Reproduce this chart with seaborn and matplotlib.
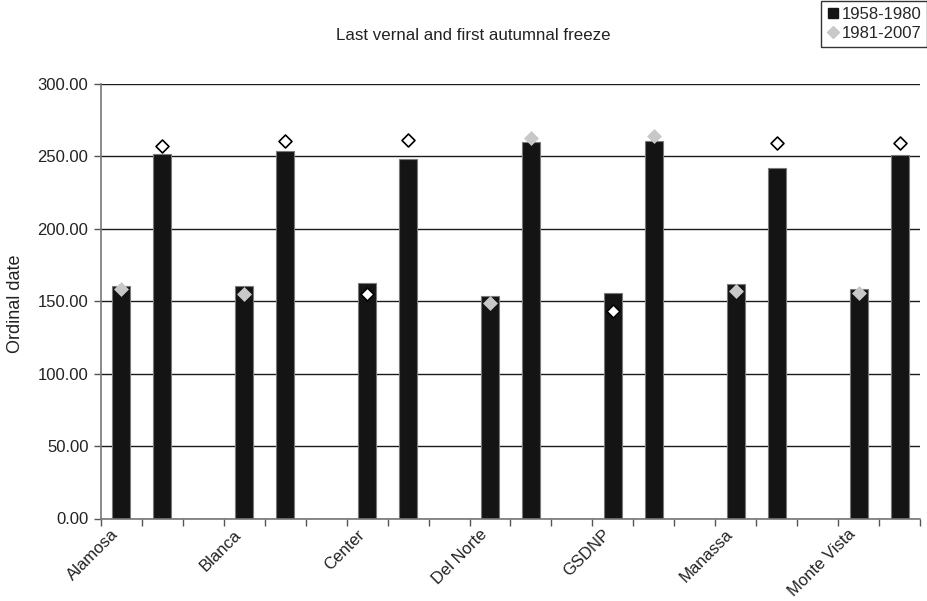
import numpy as np
import pandas as pd
import matplotlib
matplotlib.use("Agg")
import matplotlib.pyplot as plt
import matplotlib.transforms as mtransforms
from matplotlib.lines import Line2D
import seaborn as sns

# Stations and freeze dates (ordinal day of year)
stations = ["Alamosa", "Blanca", "Center", "Del Norte", "GSDNP", "Manassa", "Monte Vista"]
periods = ["1958-1980", "1981-2007"]

# 1958-1980 means (bars)
last_spring_1958 = [160.3, 160.8, 162.9, 153.4, 155.7, 162.2, 158.3]
first_fall_1958 = [251.9, 253.4, 248.2, 259.7, 260.3, 241.9, 250.7]

# 1981-2007 means (diamonds)
last_spring_1981 = [158.8, 154.8, 154.8, 148.8, 143.3, 156.9, 155.7]
first_fall_1981 = [257.4, 260.6, 261.0, 262.9, 264.0, 259.4, 259.4]

y_ticks = [0, 50, 100, 150, 200, 250, 300]

# Diamonds drawn hollow (white with black outline) instead of solid grey
hollow_spring = [False, False, True, False, True, False, False]
hollow_fall = [True, True, True, False, False, True, True]

sns.set_theme(style="white")
plt.rcParams["font.family"] = ["Liberation Sans", "DejaVu Sans"]

# Category slots: spring, fall, empty spacer between stations
order = []
for i, s in enumerate(stations):
    order += [f"{s} spring", f"{s} fall"]
    if i < len(stations) - 1:
        order.append(f"{s} gap")

bars = pd.DataFrame({
    "slot": [f"{s} spring" for s in stations] + [f"{s} fall" for s in stations],
    "day": last_spring_1958 + first_fall_1958,
})
pts = pd.DataFrame({
    "slot": [f"{s} spring" for s in stations] + [f"{s} fall" for s in stations],
    "day": last_spring_1981 + first_fall_1981,
    "hollow": hollow_spring + hollow_fall,
})

fig = plt.figure(figsize=(9.28, 6.01), dpi=100)
ax = fig.add_axes([101 / 928, 1 - 518.5 / 601, (920 - 101) / 928, (518.5 - 84) / 601])

bar_color = "#141414"
grey = "#c8c8c8"

sns.barplot(data=bars, x="slot", y="day", order=order, color=bar_color,
            width=0.44, edgecolor="#7a7a7a", linewidth=0.8, saturation=1,
            errorbar=None, ax=ax, zorder=2)

sns.stripplot(data=pts[~pts["hollow"]], x="slot", y="day", order=order,
              jitter=False, marker="D", size=7.6, color=grey, linewidth=0,
              ax=ax, zorder=4)
sns.stripplot(data=pts[pts["hollow"]], x="slot", y="day", order=order,
              jitter=False, marker="D", size=6.6, color="white",
              edgecolor="black", linewidth=1.2, ax=ax, zorder=4)

n = len(order)
ax.set_xlim(-0.5, n - 0.5)
ax.set_ylim(0, 300)
ax.set_yticks(y_ticks)
ax.set_yticklabels([f"{v:.2f}" for v in y_ticks], fontsize=12, color="#222222")

# Tick marks between categories, station names under the spring bars
ax.set_xticks(np.arange(n + 1) - 0.5)
ax.set_xticklabels([""] * (n + 1))
ax.set_xticks([order.index(f"{s} spring") for s in stations], minor=True)
ax.set_xticklabels(stations, minor=True, rotation=45, ha="right",
                   fontsize=12, color="#222222")
shift = mtransforms.ScaledTranslation(3 / 100, 0, fig.dpi_scale_trans)
for lbl in ax.get_xticklabels(minor=True):
    lbl.set_transform(lbl.get_transform() + shift)
ax.tick_params(axis="x", which="major", direction="out", length=5,
               width=1, color="#555555", bottom=True)
ax.tick_params(axis="x", which="minor", length=0, pad=6)
ax.tick_params(axis="y", direction="out", length=5, width=1,
               color="#555555", left=True, pad=4)

ax.yaxis.grid(True, color="#1a1a1a", linewidth=1)
ax.xaxis.grid(False)
ax.set_axisbelow(True)
for side in ["top", "right"]:
    ax.spines[side].set_visible(False)
for side in ["left", "bottom"]:
    ax.spines[side].set_color("#777777")
    ax.spines[side].set_linewidth(1.2)

ax.set_xlabel("")
ax.set_ylabel("")
fig.text(16 / 928, 0.495, "Ordinal date", rotation=90, ha="center",
         va="center", fontsize=13, color="#222222")
fig.text(473 / 928, 1 - 36 / 601, "Last vernal and first autumnal freeze",
         ha="center", va="center", fontsize=12.2, color="#222222")

handles = [
    Line2D([], [], marker="s", linestyle="", color=bar_color, markersize=7.5),
    Line2D([], [], marker="D", linestyle="", color=grey, markersize=6.5),
]
leg = fig.legend(handles, periods, loc="upper right",
                 bbox_to_anchor=(927 / 928, 600 / 601), fontsize=12,
                 frameon=True, fancybox=False, edgecolor="black",
                 handlelength=0.7, handletextpad=0.15, borderpad=0.35,
                 labelspacing=0.25, borderaxespad=0)
leg.get_frame().set_linewidth(1)

fig.savefig("out.png", dpi=100)
